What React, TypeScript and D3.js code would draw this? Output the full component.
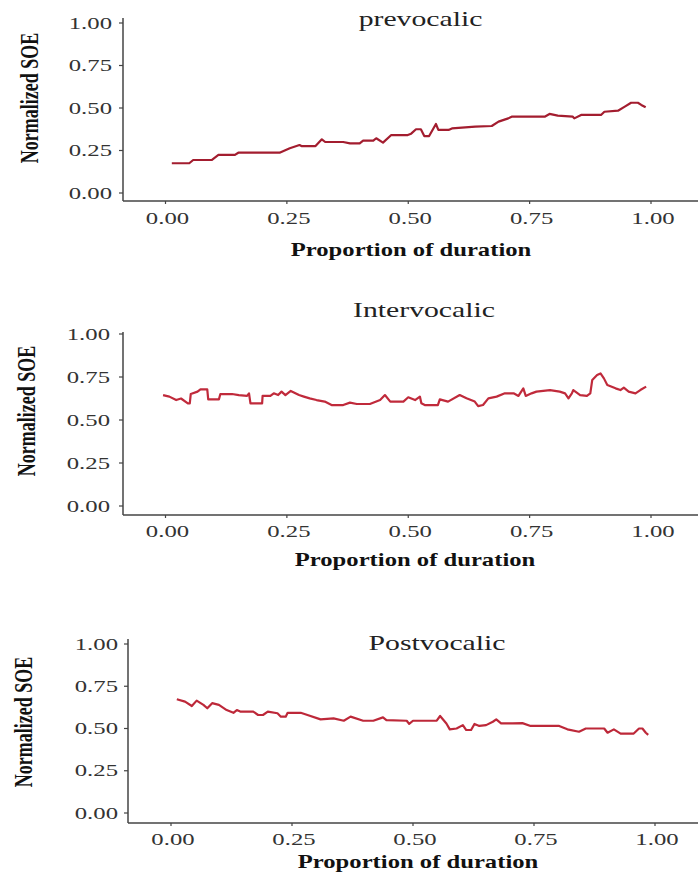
import * as d3 from "d3";
import React from "react";

// [proportion of duration, normalized SOE]
const prevocalic: [number, number][] = [
  [0.013, 0.175], [0.049, 0.175], [0.057, 0.194], [0.095, 0.194], [0.109, 0.224],
  [0.143, 0.224], [0.15, 0.237], [0.235, 0.237], [0.256, 0.263], [0.276, 0.282],
  [0.28, 0.276], [0.309, 0.276], [0.322, 0.316], [0.329, 0.3], [0.366, 0.3],
  [0.38, 0.292], [0.4, 0.292], [0.407, 0.308], [0.428, 0.308], [0.434, 0.322],
  [0.448, 0.296], [0.465, 0.341], [0.499, 0.341], [0.506, 0.349], [0.516, 0.375],
  [0.526, 0.375], [0.533, 0.335], [0.543, 0.335], [0.557, 0.406], [0.562, 0.371],
  [0.583, 0.371], [0.59, 0.38], [0.638, 0.39], [0.672, 0.394], [0.686, 0.42],
  [0.706, 0.439], [0.713, 0.449], [0.781, 0.449], [0.791, 0.465], [0.808, 0.455],
  [0.839, 0.449], [0.842, 0.439], [0.856, 0.459], [0.897, 0.459], [0.904, 0.478],
  [0.932, 0.484], [0.946, 0.508], [0.959, 0.531], [0.973, 0.531], [0.98, 0.518],
  [0.989, 0.504],
];

const intervocalic: [number, number][] = [
  [-0.005, 0.645], [0.008, 0.636], [0.022, 0.616], [0.032, 0.625], [0.046, 0.597],
  [0.05, 0.597], [0.052, 0.651], [0.066, 0.665], [0.072, 0.678], [0.086, 0.678],
  [0.088, 0.62], [0.11, 0.62], [0.113, 0.651], [0.137, 0.651], [0.151, 0.645],
  [0.168, 0.64], [0.172, 0.655], [0.175, 0.597], [0.199, 0.597], [0.2, 0.64],
  [0.216, 0.64], [0.223, 0.655], [0.232, 0.645], [0.239, 0.665], [0.247, 0.645],
  [0.258, 0.669], [0.275, 0.645], [0.285, 0.636], [0.297, 0.626], [0.311, 0.616],
  [0.328, 0.607], [0.342, 0.587], [0.366, 0.587], [0.38, 0.601], [0.394, 0.593],
  [0.421, 0.593], [0.442, 0.616], [0.452, 0.645], [0.463, 0.607], [0.49, 0.607],
  [0.5, 0.632], [0.514, 0.616], [0.524, 0.636], [0.527, 0.597], [0.534, 0.587],
  [0.561, 0.587], [0.565, 0.62], [0.582, 0.607], [0.606, 0.645], [0.62, 0.626],
  [0.637, 0.607], [0.644, 0.581], [0.654, 0.587], [0.665, 0.626], [0.682, 0.636],
  [0.699, 0.655], [0.717, 0.655], [0.727, 0.64], [0.737, 0.684], [0.742, 0.64],
  [0.754, 0.655], [0.764, 0.665], [0.792, 0.674], [0.812, 0.665], [0.823, 0.655],
  [0.83, 0.626], [0.837, 0.655], [0.84, 0.674], [0.854, 0.645], [0.868, 0.64],
  [0.875, 0.655], [0.879, 0.733], [0.889, 0.762], [0.896, 0.771], [0.903, 0.742],
  [0.91, 0.703], [0.927, 0.684], [0.937, 0.674], [0.944, 0.688], [0.954, 0.665],
  [0.968, 0.655], [0.978, 0.674], [0.99, 0.694],
];

const postvocalic: [number, number][] = [
  [0.012, 0.673], [0.029, 0.659], [0.043, 0.633], [0.053, 0.665], [0.067, 0.64],
  [0.075, 0.62], [0.085, 0.65], [0.099, 0.64], [0.115, 0.609], [0.129, 0.593],
  [0.136, 0.609], [0.143, 0.6], [0.17, 0.6], [0.18, 0.58], [0.19, 0.58],
  [0.2, 0.6], [0.22, 0.59], [0.227, 0.57], [0.237, 0.57], [0.241, 0.593],
  [0.268, 0.593], [0.282, 0.58], [0.309, 0.554], [0.336, 0.56], [0.357, 0.546],
  [0.371, 0.57], [0.397, 0.546], [0.418, 0.546], [0.438, 0.566], [0.445, 0.55],
  [0.487, 0.546], [0.492, 0.527], [0.5, 0.546], [0.549, 0.546], [0.556, 0.574],
  [0.569, 0.53], [0.576, 0.495], [0.59, 0.5], [0.603, 0.52], [0.61, 0.491],
  [0.62, 0.491], [0.627, 0.527], [0.637, 0.515], [0.651, 0.52], [0.665, 0.54],
  [0.672, 0.554], [0.682, 0.53], [0.706, 0.53], [0.726, 0.532], [0.743, 0.515],
  [0.802, 0.515], [0.819, 0.495], [0.843, 0.481], [0.857, 0.5], [0.895, 0.5],
  [0.902, 0.475], [0.915, 0.495], [0.929, 0.47], [0.956, 0.47], [0.967, 0.5],
  [0.974, 0.5], [0.981, 0.475], [0.986, 0.462],
];

const xTicks = [0, 0.25, 0.5, 0.75, 1];
const yTicks = [0, 0.25, 0.5, 0.75, 1];
const titles = ["prevocalic", "Intervocalic", "Postvocalic"];

const panels = [
  { data: prevocalic, color: "#a31d2f", xr: [165.5, 651], yr: [193, 23], ax: 123, ay: 201, top: 18,
    title: [420.5, 26], tickRight: 112, xLab: 224, xTitle: [411, 256], yTitle: [38, 98] },
  { data: intervocalic, color: "#c02a3b", xr: [165.5, 651], yr: [506, 334], ax: 123, ay: 515, top: 332,
    title: [424, 317], tickRight: 110, xLab: 537, xTitle: [415, 566], yTitle: [35, 411] },
  { data: postvocalic, color: "#bd2839", xr: [171, 655], yr: [813, 644], ax: 128, ay: 823, top: 639,
    title: [437, 650], tickRight: 118, xLab: 845, xTitle: [418, 868], yTitle: [31.5, 722] },
];

const font = "'Liberation Serif', 'Times New Roman', serif";
const SX = 1.45; // the figure is stretched horizontally
const axisColor = "#444";

function Panel({ p, title }: { p: any; title: string }) {
  const x = d3.scaleLinear().domain([0, 1]).range(p.xr);
  const y = d3.scaleLinear().domain([0, 1]).range(p.yr);
  const line = d3.line<[number, number]>().x(d => x(d[0])).y(d => y(d[1]));
  return (
    <g>
      <text transform={`translate(${p.title[0]},${p.title[1]}) scale(${SX},1)`} textAnchor="middle"
        fontFamily={font} fontSize={20.5} fill="#222">{title}</text>
      <line x1={p.ax} x2={p.ax} y1={p.top} y2={p.ay} stroke={axisColor} strokeWidth={1.5} />
      <line x1={p.ax} x2={698} y1={p.ay} y2={p.ay} stroke={axisColor} strokeWidth={1.5} />
      {yTicks.map(t => (
        <g key={"y" + t}>
          <line x1={p.ax - 4} x2={p.ax} y1={y(t)} y2={y(t)} stroke={axisColor} strokeWidth={1.2} />
          <text transform={`translate(${p.tickRight},${y(t) + 5.5}) scale(1.5,1)`} textAnchor="end"
            fontFamily={font} fontSize={16.5} fill="#333">{d3.format(".2f")(t)}</text>
        </g>
      ))}
      {xTicks.map(t => (
        <g key={"x" + t}>
          <line x1={x(t)} x2={x(t)} y1={p.ay} y2={p.ay + 3} stroke={axisColor} strokeWidth={1.2} />
          <text transform={`translate(${x(t) + 2},${p.xLab}) scale(1.5,1)`} textAnchor="middle"
            fontFamily={font} fontSize={16.5} fill="#333">{d3.format(".2f")(t)}</text>
        </g>
      ))}
      <text transform={`translate(${p.xTitle[0]},${p.xTitle[1]}) scale(1.37,1)`} textAnchor="middle"
        fontFamily={font} fontSize={18} fontWeight="bold" fill="#111">Proportion of duration</text>
      <text transform={`translate(${p.yTitle[0]},${p.yTitle[1]}) scale(${SX},1) rotate(-90)`} textAnchor="middle"
        fontFamily={font} fontSize={18} fontWeight="bold" fill="#111">Normalized SOE</text>
      <path d={line(p.data) || ""} fill="none" stroke={p.color} strokeWidth={2.2} strokeLinejoin="round" />
    </g>
  );
}

export default function App() {
  return (
    <svg width={700} height={872} style={{ position: "absolute", left: 0, top: 0, background: "#fff" }}>
      <rect width={700} height={872} fill="#fff" />
      {panels.map((p, i) => <Panel key={i} p={p} title={titles[i]} />)}
    </svg>
  );
}
